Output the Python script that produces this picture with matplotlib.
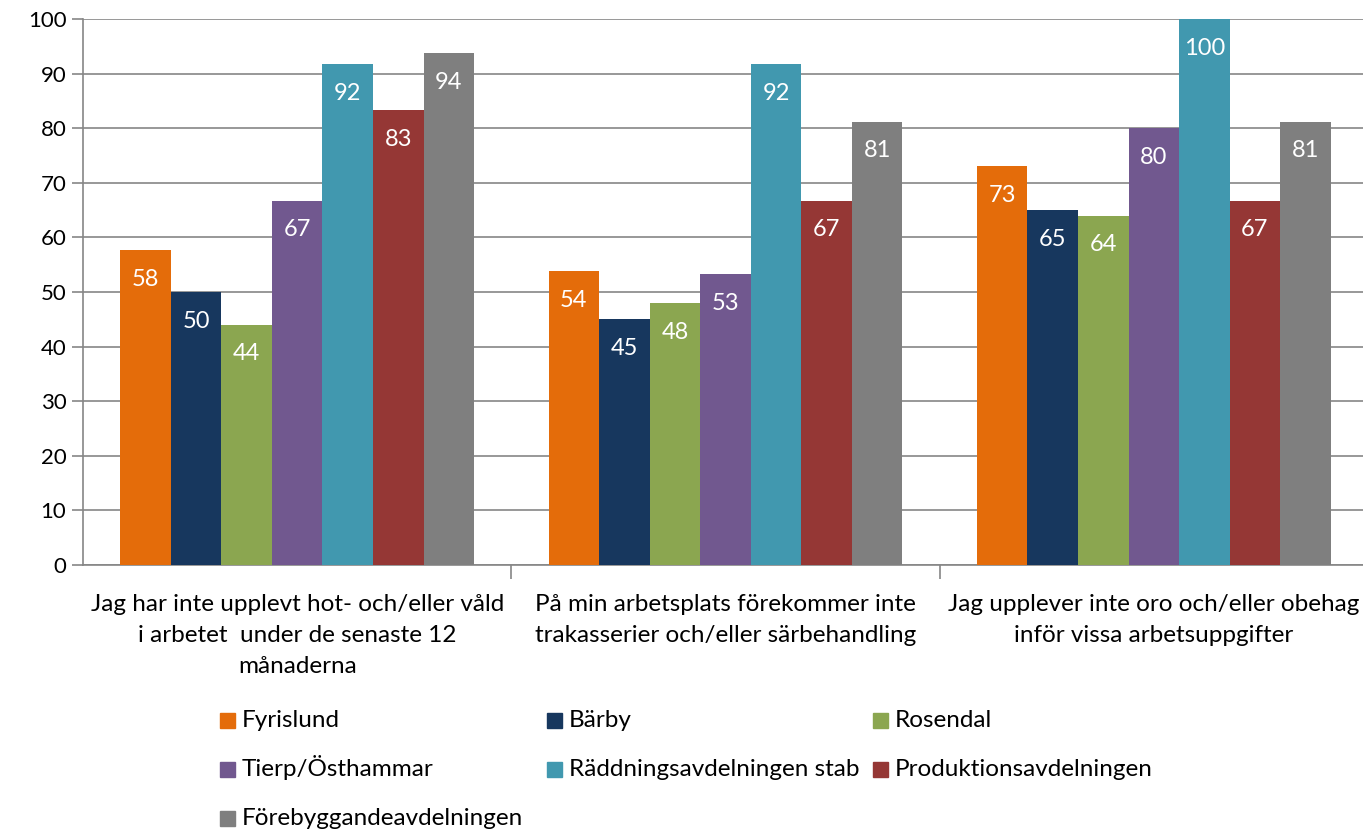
import numpy as np
import matplotlib
matplotlib.use("Agg")
import matplotlib.pyplot as plt
from matplotlib.patches import Rectangle

plt.rcParams["font.family"] = ["Lato", "DejaVu Sans"]

categories = [
    "Jag har inte upplevt hot- och/eller våld\ni arbetet  under de senaste 12\nmånaderna",
    "På min arbetsplats förekommer inte\ntrakasserier och/eller särbehandling",
    "Jag upplever inte oro och/eller obehag\ninför vissa arbetsuppgifter",
]
series = ["Fyrislund", "Bärby", "Rosendal", "Tierp/Östhammar",
          "Räddningsavdelningen stab", "Produktionsavdelningen",
          "Förebyggandeavdelningen"]
fyrislund = [57.7, 53.8, 73.1]
barby = [50.0, 45.0, 65.0]
rosendal = [44.0, 48.0, 64.0]
tierp = [66.7, 53.3, 80.0]
raddning = [91.7, 91.7, 100.0]
produktion = [83.3, 66.7, 66.7]
forebygg = [93.8, 81.2, 81.2]
values = [fyrislund, barby, rosendal, tierp, raddning, produktion, forebygg]
colors = ["#E46C0A", "#17375E", "#8BA650", "#71588F", "#4198AF", "#953735", "#7F7F7F"]

W, H = 1363, 830
fig = plt.figure(figsize=(W / 100, H / 100), dpi=100)
ax = fig.add_axes([83 / W, 265 / H, 1285 / W, 546 / H])

x = np.arange(len(categories))
w = 0.118
for i, (name, vals, c) in enumerate(zip(series, values, colors)):
    pos = x + (i - 3) * w
    ax.bar(pos, vals, width=w, color=c, label=name, zorder=3)
    for p, v in zip(pos, vals):
        ax.annotate(f"{v:.0f}", (p, v), xytext=(0, -21), textcoords="offset points",
                    ha="center", va="center", color="white", fontsize=17, zorder=4)

ax.set_xlim(-0.5, 2.5)
ax.set_ylim(0, 100)
ax.set_yticks(range(0, 101, 10))
ax.yaxis.grid(True, color="#868686", linewidth=1.2, zorder=0)
ax.tick_params(axis="y", labelsize=16, length=8, color="#868686", width=1.2, pad=4)
for s in ["top", "right"]:
    ax.spines[s].set_visible(False)
for s in ["left", "bottom"]:
    ax.spines[s].set_color("#868686")
    ax.spines[s].set_linewidth(1.2)

ax.set_xticks([0.5, 1.5], minor=False)
ax.set_xticklabels([])
ax.tick_params(axis="x", length=10, color="#868686", width=1.2)
ax.set_xticks(x, minor=True)
ax.set_xticklabels(categories, minor=True, fontsize=17.5, linespacing=1.58)
ax.tick_params(axis="x", which="minor", length=0, pad=21)

# legend laid out row by row, three columns
col_x = [220, 547, 873]
row_y = [720, 769, 818]
for i, (name, c) in enumerate(zip(series, colors)):
    lx = col_x[i % 3]
    ly = row_y[i // 3]
    fig.add_artist(Rectangle((lx / W, 1 - (ly + 8) / H), 15 / W, 15 / H,
                             transform=fig.transFigure, color=c))
    fig.text((lx + 22) / W, 1 - (ly + 7) / H, name, fontsize=17.5,
             va="baseline", ha="left")

fig.savefig("out.png", dpi=100)
